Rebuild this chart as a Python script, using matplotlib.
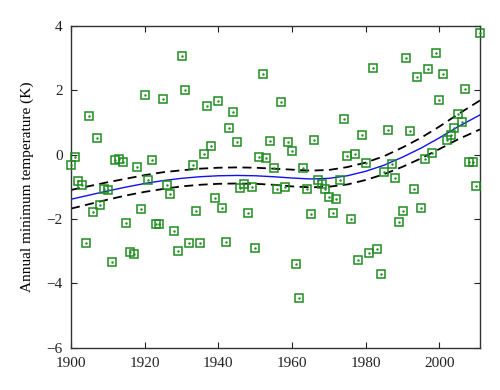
import numpy as np
from matplotlib import pyplot as plt

# annual minimum temperature anomalies, one per year 1900-2011
years = list(range(1900, 2012))
temps = [-0.33, -0.07, -0.82, -0.95, -2.75, 1.20, -1.78, 0.50, -1.57, -1.07,
         -1.09, -3.34, -0.17, -0.15, -0.24, -2.13, -3.03, -3.09, -0.39, -1.70,
         1.86, -0.79, -0.17, -2.17, -2.17, 1.71, -0.95, -1.23, -2.38, -3.01,
         3.06, 2.01, -2.74, -0.34, -1.75, -2.76, 0.02, 1.50, 0.26, -1.36,
         1.66, -1.67, -2.71, 0.82, 1.31, 0.38, -1.05, -0.92, -1.83, -1.02,
         -2.91, -0.09, 2.50, -0.12, 0.42, -0.42, -1.08, 1.63, -1.02, 0.38,
         0.12, -3.39, -4.45, -0.43, -1.06, -1.84, 0.44, -0.79, -0.92, -1.08,
         -1.31, -1.83, -1.39, -0.80, 1.10, -0.04, -1.99, 0.02, -3.27, 0.62,
         -0.26, -3.05, 2.69, -2.94, -3.72, -0.55, 0.77, -0.30, -0.74, -2.10,
         -1.76, 3.01, 0.74, -1.07, 2.40, -1.66, -0.14, 2.66, 0.04, 3.15,
         1.68, 2.50, 0.45, 0.60, 0.82, 1.27, 1.01, 2.02, -0.23, -0.23,
         -0.98, 3.79]

# fitted trend and its confidence band, read every 5 years
fit_years = [1900, 1905, 1910, 1915, 1920, 1925, 1930, 1935, 1940, 1945, 1950, 1955,
             1960, 1965, 1970, 1975, 1980, 1985, 1990, 1995, 2000, 2005, 2011]
fit_mid = [-1.39, -1.26, -1.13, -1.01, -0.90, -0.81, -0.74, -0.69, -0.66, -0.65, -0.66, -0.69,
           -0.73, -0.76, -0.74, -0.66, -0.52, -0.33, -0.08, 0.20, 0.52, 0.86, 1.23]
fit_hi = [-1.10, -0.98, -0.86, -0.75, -0.64, -0.55, -0.49, -0.44, -0.41, -0.40, -0.41, -0.44,
          -0.47, -0.50, -0.48, -0.39, -0.25, -0.05, 0.22, 0.52, 0.87, 1.25, 1.68]
fit_lo = [-1.68, -1.54, -1.40, -1.27, -1.16, -1.07, -0.99, -0.94, -0.91, -0.90, -0.91, -0.94,
          -0.99, -1.02, -1.00, -0.93, -0.79, -0.61, -0.38, -0.12, 0.17, 0.47, 0.78]

xticks = [1900, 1920, 1940, 1960, 1980, 2000]
yticks = [-6, -4, -2, 0, 2, 4]

plt.rcParams['font.family'] = ['Liberation Serif', 'DejaVu Serif']
plt.rcParams['axes.unicode_minus'] = True

fig = plt.figure(figsize=(5, 3.9), dpi=100)
ax = fig.add_axes([0.142, 0.1085, 0.818, 0.8255])

green = '#1f8c1f'
ax.plot(years, temps, 's', mfc='none', mec=green, ms=5.8, mew=1.1, clip_on=False, zorder=3)
ax.plot(years, temps, '.', color=green, ms=1.5, clip_on=False, zorder=3)
ax.plot(fit_years, fit_mid, color='#1010f0', lw=1.0, zorder=2)
ax.plot(fit_years, fit_hi, '--', color='black', lw=1.3, dashes=(5, 3), zorder=2)
ax.plot(fit_years, fit_lo, '--', color='black', lw=1.3, dashes=(5, 3), zorder=2)

ax.set_xlim(1900, 2011)
ax.set_ylim(-6, 4)
ax.set_xticks(xticks)
ax.set_yticks(yticks)
ax.tick_params(direction='in', top=True, right=True, length=4, width=0.8,
               labelsize=11, colors='#222222')
ax.tick_params(axis='x', pad=7)
ax.tick_params(axis='y', pad=6)
for s in ax.spines.values():
    s.set_linewidth(1.0)
    s.set_color('#333333')
ax.set_ylabel('Annual minimum temperature (K)', fontsize=11, labelpad=9)

fig.savefig('out.png', dpi=100)
